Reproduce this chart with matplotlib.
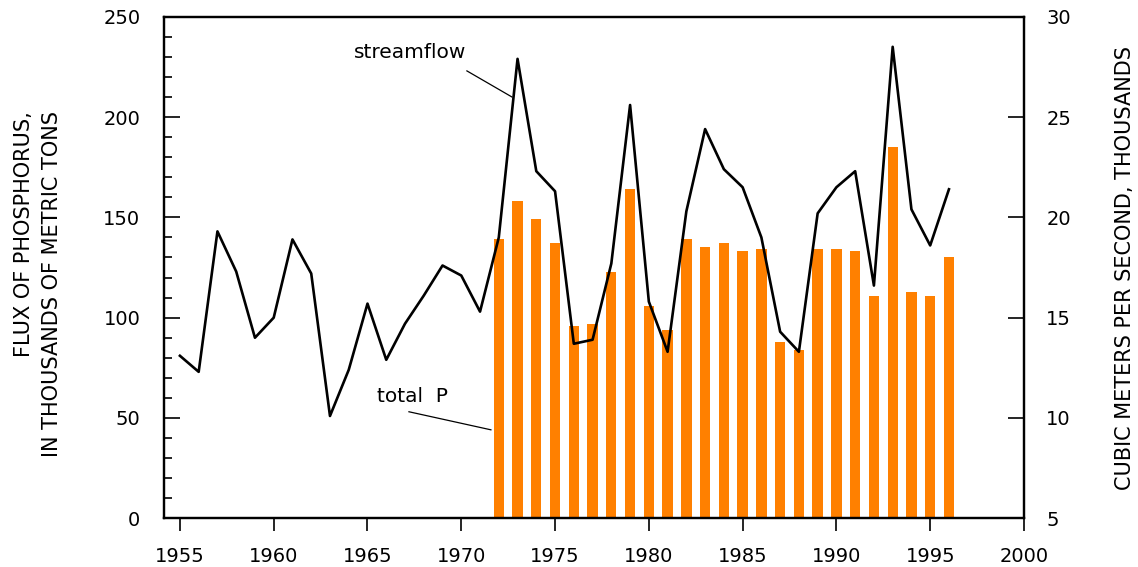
import matplotlib.pyplot as plt
from matplotlib.ticker import MultipleLocator

plt.rcParams["font.family"] = "DejaVu Sans"

# Streamflow, thousands of cubic meters per second
flow_years = list(range(1955, 1997))
streamflow = [
    13.1, 12.3, 19.3, 17.3, 14.0, 15.0, 18.9, 17.2, 10.1, 12.4,
    15.7, 12.9, 14.7, 16.1, 17.6, 17.1, 15.3, 19.0, 27.9, 22.3,
    21.3, 13.7, 13.9, 17.7, 25.6, 15.8, 13.3, 20.3, 24.4, 22.4,
    21.5, 19.0, 14.3, 13.3, 20.2, 21.5, 22.3, 16.6, 28.5, 20.4,
    18.6, 21.4,
]

# Total phosphorus flux, thousands of metric tons
p_years = list(range(1972, 1997))
total_p = [
    139, 158, 149, 137, 96, 97, 123, 164, 106, 94,
    139, 135, 137, 133, 134, 88, 84, 134, 134, 133,
    111, 185, 113, 111, 130,
]

x_ticks = list(range(1955, 2001, 5))

fig = plt.figure(figsize=(11.38, 5.67), dpi=100)
ax = fig.add_axes([0.1441, 0.0859, 0.7557, 0.8846])
ax2 = ax.twinx()

ax.bar(p_years, total_p, width=0.55, color="#FF8000", zorder=2)
ax2.plot(flow_years, streamflow, color="black", linewidth=1.9)

ax.set_xlim(1954.15, 2000)
ax.set_ylim(0, 250)
ax2.set_ylim(5, 30)

ax.set_xticks(x_ticks)
ax.yaxis.set_major_locator(MultipleLocator(50))
ax.yaxis.set_minor_locator(MultipleLocator(10))
ax2.yaxis.set_major_locator(MultipleLocator(5))

ax.tick_params(axis="x", direction="out", length=9.4, width=1.2, pad=11, labelsize=14)
ax.tick_params(axis="y", which="major", direction="in", length=11.5, width=1.2, pad=17, labelsize=14)
ax.tick_params(axis="y", which="minor", direction="in", length=5.8, width=1.2)
ax2.tick_params(axis="y", direction="in", length=11.5, width=1.2, pad=16, labelsize=14)

for a in (ax, ax2):
    for s in a.spines.values():
        s.set_linewidth(1.6)

# axis titles
fig.text(38 / 1138, 1 - 284 / 567, "FLUX OF PHOSPHORUS,\nIN THOUSANDS OF METRIC TONS",
         rotation=90, ha="center", va="center", multialignment="right",
         fontsize=15, linespacing=1.45)
fig.text(1125 / 1138, 1 - 267.5 / 567, "CUBIC METERS PER SECOND, THOUSANDS",
         rotation=90, ha="center", va="center", fontsize=15)

# labels with leader lines
ax.text(1967.26, 232, "streamflow", ha="center", va="center", fontsize=14.5)
ax.plot([1970.3, 1972.7], [223.0, 210.0], color="black", linewidth=0.9)
ax.text(1967.42, 60.5, "total  P", ha="center", va="center", fontsize=14.5)
ax.plot([1967.21, 1971.58], [53.1, 44.1], color="black", linewidth=0.9)

fig.savefig("out.png", dpi=100)
